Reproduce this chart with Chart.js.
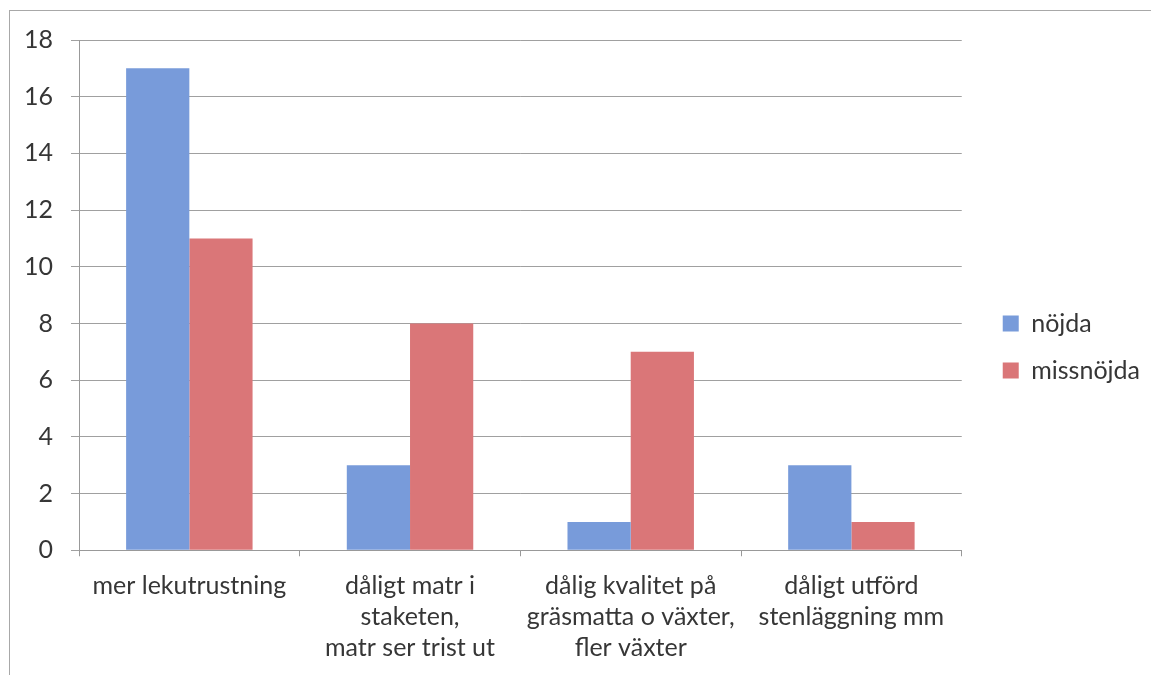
<!DOCTYPE html>
<html>
<head>
<meta charset="utf-8">
<script src="https://cdn.jsdelivr.net/npm/chart.js@4.4.1/dist/chart.umd.min.js"></script>
<style>
    html, body { margin: 0; padding: 0; background: #fff; }
    #wrap { position: relative; width: 1151px; height: 675px; }
    #frame {
        position: absolute; left: 9px; top: 10px; right: 0; bottom: -2px;
        border-top: 1.5px solid #a8a8a8; border-left: 1.5px solid #a8a8a8;
        pointer-events: none;
    }
</style>
</head>
<body>
<div id="wrap">
    <canvas id="surveyChart" width="1151" height="675"></canvas>
    <div id="frame"></div>
</div>
<script>
const categories = [
    ["mer lekutrustning"],
    ["dåligt matr i", "staketen,", "matr ser trist ut"],
    ["dålig kvalitet på", "gräsmatta o växter,", "fler växter"],
    ["dåligt utförd", "stenläggning mm"]
];
const seriesNames = ["nöjda", "missnöjda"];
const nojda = [17, 3, 1, 3];
const missnojda = [11, 8, 7, 1];
const yMin = 0;
const yMax = 18;
const yStep = 2;

const textColor = "#363636";
const fontFamily = "Lato, 'Open Sans', sans-serif";

// move the legend a bit away from the plot and up, like the Excel original
const legendShift = {
    id: "legendShift",
    afterLayout(chart) {
        chart.legend.left += 19;
        chart.legend.right += 19;
        chart.legend.top -= 12;
        chart.legend.bottom -= 12;
    }
};

let ctx = document.getElementById("surveyChart").getContext("2d");
let surveyChart = new Chart(ctx, {
    type: "bar",
    data: {
        labels: categories,
        datasets: [
            {
                label: seriesNames[0],
                data: nojda,
                backgroundColor: "rgb(120,155,218)",
            },
            {
                label: seriesNames[1],
                data: missnojda,
                backgroundColor: "rgb(218,118,120)",
            },
        ],
    },
    options: {
        responsive: false,
        animation: false,
        devicePixelRatio: 1,
        categoryPercentage: 0.573,
        barPercentage: 1.0,
        layout: {
            padding: { left: 6, top: 40, right: 20, bottom: -3 }
        },
        plugins: {
            tooltip: { enabled: false },
            legend: {
                position: "right",
                labels: {
                    color: textColor,
                    font: { family: fontFamily, size: 25 },
                    boxWidth: 16,
                    boxHeight: 16,
                    padding: 22,
                }
            }
        },
        scales: {
            x: {
                grid: {
                    offset: true,
                    drawOnChartArea: false,
                    drawTicks: true,
                    tickLength: 6,
                    color: "#999",
                },
                border: { color: "#999", width: 1 },
                ticks: {
                    color: textColor,
                    font: { family: fontFamily, size: 25, lineHeight: 1.25 },
                    maxRotation: 0,
                    autoSkip: false,
                    padding: 14,
                }
            },
            y: {
                min: yMin,
                max: yMax,
                ticks: {
                    stepSize: yStep,
                    color: textColor,
                    font: { family: fontFamily, size: 25 },
                    padding: 18,
                },
                grid: {
                    color: "#a0a0a0",
                    tickLength: 8,
                },
                border: { color: "#999", width: 1 },
            }
        }
    },
    plugins: [legendShift]
});
</script>
</body>
</html>
